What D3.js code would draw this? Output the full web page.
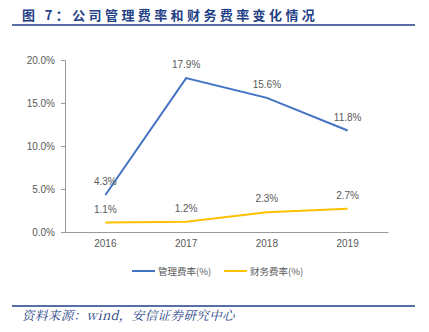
<!DOCTYPE html>
<html>
<head>
<meta charset="utf-8">
<script src="https://cdn.jsdelivr.net/npm/d3@7"></script>
<style>
  body { margin: 0; background: #fff; }
  svg { display: block; }
</style>
</head>
<body>
<script>
// Chart data
const years = ["2016", "2017", "2018", "2019"];
const mgmtRate = [4.3, 17.9, 15.6, 11.8];
const finRate = [1.1, 1.2, 2.3, 2.7];
const yTicks = [0, 5, 10, 15, 20];
const seriesNames = ["管理费率(%)", "财务费率(%)"];
const seriesColors = ["#4472C4", "#FFC000"];

const W = 429, H = 332;
const svg = d3.select("body").append("svg").attr("width", W).attr("height", H);

const navy = "#1F3F86";
const textGrey = "#595959";
const axisGrey = "#9A9A9A";

// Title and rules
svg.append("text")
  .attr("x", 22).attr("y", 20)
  .attr("fill", navy)
  .attr("font-family", "'Noto Sans CJK SC', sans-serif")
  .attr("font-weight", "bold")
  .attr("font-size", 13)
  .attr("letter-spacing", 3.4)
  .text("图 7：公司管理费率和财务费率变化情况");
svg.append("line").attr("x1", 12).attr("x2", 415).attr("y1", 25).attr("y2", 25)
  .attr("stroke", navy).attr("stroke-width", 1.5);
svg.append("line").attr("x1", 12).attr("x2", 415).attr("y1", 306).attr("y2", 306)
  .attr("stroke", navy).attr("stroke-width", 1.5);
svg.append("text")
  .attr("x", 22).attr("y", 320)
  .attr("fill", navy)
  .attr("font-family", "'Noto Serif CJK SC', 'Liberation Serif', serif")
  .attr("font-style", "italic")
  .attr("font-size", 12.5)
  .attr("letter-spacing", 0.4)
  .text("资料来源：wind，安信证券研究中心");

// Scales
const x = d3.scaleBand().domain(years).range([65, 388]);
const y = d3.scaleLinear().domain([0, 20]).range([232, 60]);
const cx = d => x(d) + x.bandwidth() / 2;

// Y axis
const yAxis = svg.append("g").attr("transform", "translate(65,0)")
  .call(d3.axisLeft(y).tickValues(yTicks).tickSize(4).tickPadding(6)
    .tickFormat(d => d.toFixed(1) + "%"));
yAxis.select(".domain").attr("stroke", axisGrey);
yAxis.selectAll(".tick line").attr("stroke", axisGrey);
yAxis.selectAll("text").attr("fill", textGrey)
  .attr("font-family", "'Liberation Sans', Arial, sans-serif").attr("font-size", 10);

// X axis
const xAxis = svg.append("g").attr("transform", "translate(0,232)")
  .call(d3.axisBottom(x).tickSize(0).tickPadding(6).tickSizeOuter(0));
xAxis.select(".domain").attr("stroke", axisGrey);
xAxis.selectAll("text").attr("fill", textGrey)
  .attr("font-family", "'Liberation Sans', Arial, sans-serif").attr("font-size", 10)
  .attr("dy", "0.9em");

// Lines and value labels
const line = d3.line().x((d, i) => cx(years[i])).y(d => y(d));
[mgmtRate, finRate].forEach((vals, s) => {
  svg.append("path").datum(vals)
    .attr("d", line)
    .attr("fill", "none")
    .attr("stroke", seriesColors[s])
    .attr("stroke-width", 2);
  svg.selectAll(null).data(vals).enter().append("text")
    .attr("x", (d, i) => cx(years[i]))
    .attr("y", d => y(d) - 10)
    .attr("text-anchor", "middle")
    .attr("fill", textGrey)
    .attr("font-family", "'Liberation Sans', Arial, sans-serif")
    .attr("font-size", 10)
    .text(d => d.toFixed(1) + "%");
});

// Legend
const legend = svg.append("g").attr("transform", "translate(0,271)");
const legendX = [132, 224];
seriesNames.forEach((name, s) => {
  legend.append("line")
    .attr("x1", legendX[s]).attr("x2", legendX[s] + 23)
    .attr("y1", 0).attr("y2", 0)
    .attr("stroke", seriesColors[s]).attr("stroke-width", 2);
  legend.append("text")
    .attr("x", legendX[s] + 26).attr("y", 3.5)
    .attr("fill", textGrey)
    .attr("font-family", "'Noto Sans CJK SC', 'Liberation Sans', sans-serif")
    .attr("font-size", 9.5)
    .text(name);
});
</script>
</body>
</html>
